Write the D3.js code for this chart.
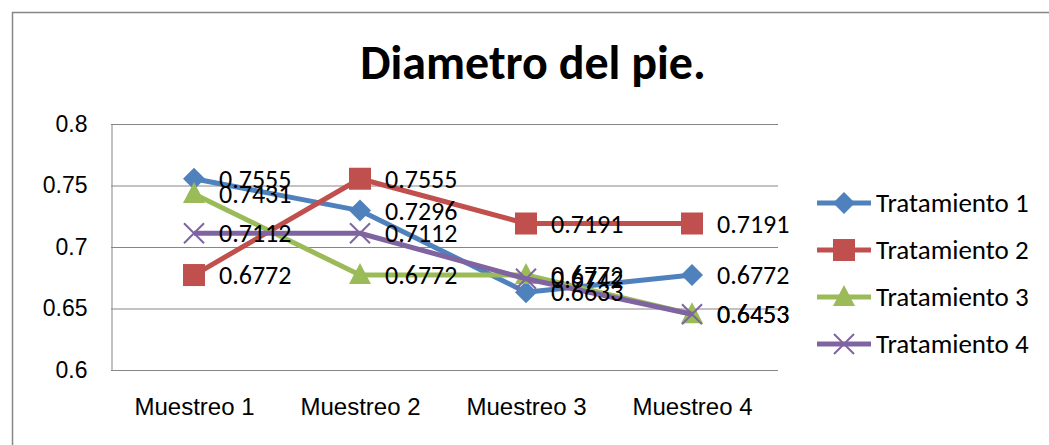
<html>
<head>
<style>
    body { margin: 0; background: #fff; }
    svg { display: block; font-family: Calibri, Carlito, "Noto Sans", sans-serif; }
</style>
</head>
<body>
<script src="https://d3js.org/d3.v7.min.js"></script>
<script>
    // Data
    const categories = ["Muestreo 1", "Muestreo 2", "Muestreo 3", "Muestreo 4"]
    const seriesNames = ["Tratamiento 1", "Tratamiento 2", "Tratamiento 3", "Tratamiento 4"]
    const t1 = [0.7555, 0.7296, 0.6633, 0.6772]
    const t2 = [0.6772, 0.7555, 0.7191, 0.7191]
    const t3 = [0.7431, 0.6772, 0.6772, 0.6453]
    const t4 = [0.7112, 0.7112, 0.6742, 0.6453]
    const yTicks = [0.6, 0.65, 0.7, 0.75, 0.8]

    const colors = ["#4F81BD", "#C0504D", "#9BBB59", "#8064A2"]
    const shapes = ["diamond", "square", "triangle", "cross"]
    const series = [t1, t2, t3, t4].map((v, i) => ({name: seriesNames[i], values: v, color: colors[i], shape: shapes[i]}))

    const width = 1049
    const height = 445
    const plot = {left: 111, right: 775, top: 124, bottom: 370}

    const svg = d3.select("body").append("svg")
        .attr("width", width)
        .attr("height", height)

    // chart border
    svg.append("rect")
        .attr("x", 12.5).attr("y", 12.5)
        .attr("width", width).attr("height", height)
        .attr("fill", "none").attr("stroke", "#868686").attr("stroke-width", 1.5)

    svg.append("text")
        .attr("x", 533).attr("y", 79)
        .attr("text-anchor", "middle")
        .attr("font-size", 48).attr("font-weight", "bold")
        .text("Diametro del pie.")

    const x = d3.scalePoint().domain(categories).range([plot.left, plot.right]).padding(0.5)
    const y = d3.scaleLinear().domain([0.6, 0.8]).range([plot.bottom, plot.top])

    // gridlines
    svg.append("g").selectAll("line").data(yTicks).join("line")
        .attr("x1", plot.left).attr("x2", plot.right + 3)
        .attr("y1", d => y(d) + 0.5).attr("y2", d => y(d) + 0.5)
        .attr("stroke", "#868686").attr("stroke-width", 1)

    const yAxis = svg.append("g")
        .attr("transform", "translate(" + (plot.left + 0.5) + ",0)")
        .call(d3.axisLeft(y).tickValues(yTicks).tickSize(0).tickPadding(24).tickFormat(d3.format("")))
    yAxis.select(".domain").attr("stroke", "#868686")
    yAxis.selectAll("text").attr("font-size", 23).attr("font-family", "inherit").attr("fill", "#000")

    const xAxis = svg.append("g")
        .attr("transform", "translate(0," + plot.bottom + ")")
        .call(d3.axisBottom(x).tickSize(0).tickPadding(28))
    xAxis.select(".domain").remove()
    xAxis.selectAll("text").attr("font-size", 24).attr("font-family", "inherit").attr("fill", "#000")

    function drawMarker(g, shape, color) {
        if (shape === "diamond") {
            g.append("path").attr("d", "M0,-11L11,0L0,11L-11,0Z").attr("fill", color)
        } else if (shape === "square") {
            g.append("rect").attr("x", -11).attr("y", -11).attr("width", 22).attr("height", 22).attr("fill", color)
        } else if (shape === "triangle") {
            g.append("path").attr("d", "M0,-12L11,9L-11,9Z").attr("fill", color)
        } else {
            g.append("path").attr("d", "M-10,-10L10,10M10,-10L-10,10").attr("stroke", color).attr("stroke-width", 2)
        }
    }

    const line = d3.line().x((d, i) => x(categories[i])).y(d => y(d))

    series.forEach(s => {
        svg.append("path")
            .attr("d", line(s.values))
            .attr("fill", "none").attr("stroke", s.color).attr("stroke-width", 5)
            .attr("stroke-linejoin", "round")
        s.values.forEach((v, i) => {
            const g = svg.append("g").attr("transform", "translate(" + x(categories[i]) + "," + y(v) + ")")
            drawMarker(g, s.shape, s.color)
        })
    })

    // data labels
    series.forEach(s => {
        s.values.forEach((v, i) => {
            svg.append("text")
                .attr("x", x(categories[i]) + 25).attr("y", y(v))
                .attr("dy", "0.35em")
                .attr("font-size", 26)
                .text(v.toFixed(4))
        })
    })

    // legend
    const legend = svg.append("g")
    series.forEach((s, i) => {
        const ly = 203 + i * 47
        const g = legend.append("g").attr("transform", "translate(817," + ly + ")")
        g.append("line").attr("x1", 0).attr("x2", 54).attr("y1", 0).attr("y2", 0)
            .attr("stroke", s.color).attr("stroke-width", 5)
        drawMarker(g.append("g").attr("transform", "translate(27,0)"), s.shape, s.color)
        g.append("text").attr("x", 59).attr("y", 0).attr("dy", "0.35em")
            .attr("font-size", 27).text(s.name)
    })
</script>
</body>
</html>
